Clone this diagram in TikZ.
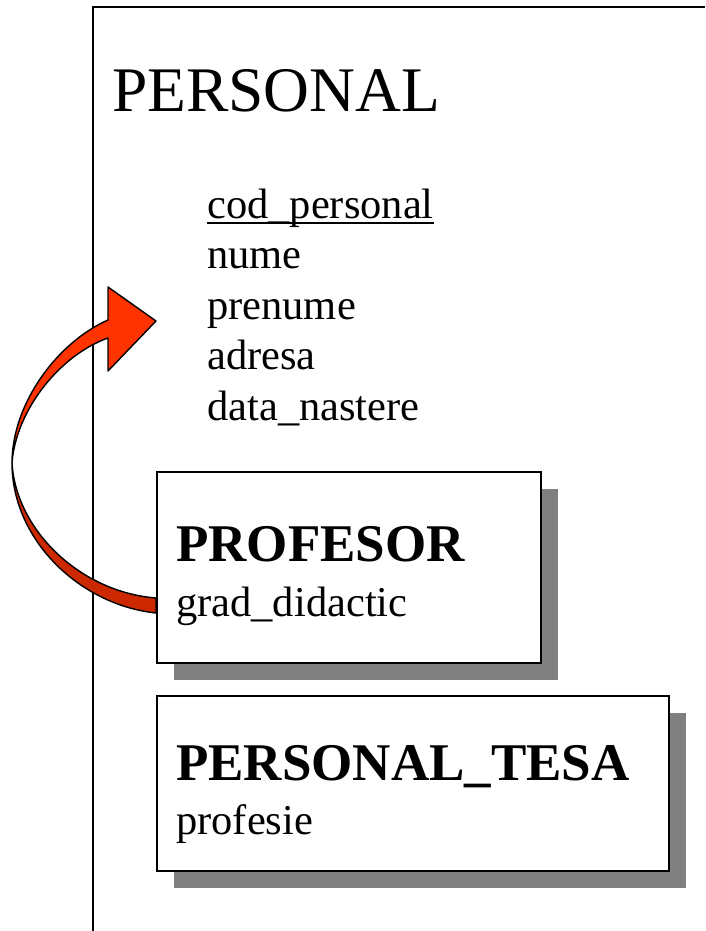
\documentclass[tikz,border=0pt]{standalone}
\usepackage{fontspec}
\setmainfont{Liberation Serif}
\usetikzlibrary{shadows}
\definecolor{arrowlight}{RGB}{255,51,0}
\definecolor{arrowdark}{RGB}{204,41,0}
\definecolor{shadowgray}{RGB}{128,128,128}
\begin{document}
\begin{tikzpicture}[x=1pt,y=-1pt,
  frame/.style={line width=2pt},
  entbox/.style={draw=black, line width=2pt, fill=white, anchor=north west,
    inner sep=0pt,
    general shadow={fill=shadowgray, shadow xshift=17pt, shadow yshift=-17pt}},
  title/.style={anchor=base west, inner sep=0pt, font=\fontsize{63.5}{70}\selectfont},
  attr/.style={anchor=base west, inner sep=0pt, font=\fontsize{42.5}{50}\selectfont},
  enttitle/.style={anchor=base west, inner sep=0pt, font=\fontsize{53}{60}\selectfont\bfseries},
  arrowedge/.style={draw=black, line width=1.4pt, line join=round}]
\useasboundingbox (0,0) rectangle (705,931);

% outer entity frame
\draw[frame] (93,931) -- (93,7) -- (705,7);

% curved inheritance arrow: dark underside, then bright front with head
\filldraw[arrowedge, fill=arrowdark]
  (12,463) .. controls (12,540) and (80,605) .. (156,613)
  -- (156,598) .. controls (80,592) and (16,530) .. (12,463) -- cycle;
\filldraw[arrowedge, fill=arrowlight]
  (108,320) .. controls (58,342) and (12,403) .. (12,463)
  .. controls (16,410) and (60,355) .. (108,338)
  -- (108,371) -- (156,321) -- (108,287) -- cycle;

% sub-entity boxes
\node[entbox, minimum width=384pt, minimum height=191pt] (prof) at (156,471) {};
\node[entbox, minimum width=512pt, minimum height=175pt] (tesa) at (156,695) {};

% supertype
\node[title] (personal) at (112,112) {PERSONAL};
\node[attr] (cp) at (207,218) {cod\_personal};
\draw[line width=2pt] ([yshift=-5pt]cp.base west) -- ([yshift=-5pt]cp.base east);
\node[attr] (nume) at (207,268.5) {nume};
\node[attr] (prenume) at (207,319) {prenume};
\node[attr] (adresa) at (207,369.5) {adresa};
\node[attr] (datan) at (207,420) {data\_nastere};

% subtypes
\node[enttitle] (proft) at (176,561) {PROFESOR};
\node[attr] (grad) at (176,616) {grad\_didactic};
\node[enttitle] (tesat) at (176,780) {PERSONAL\_TESA};
\node[attr] (profesie) at (176,834) {profesie};
\end{tikzpicture}
\end{document}
